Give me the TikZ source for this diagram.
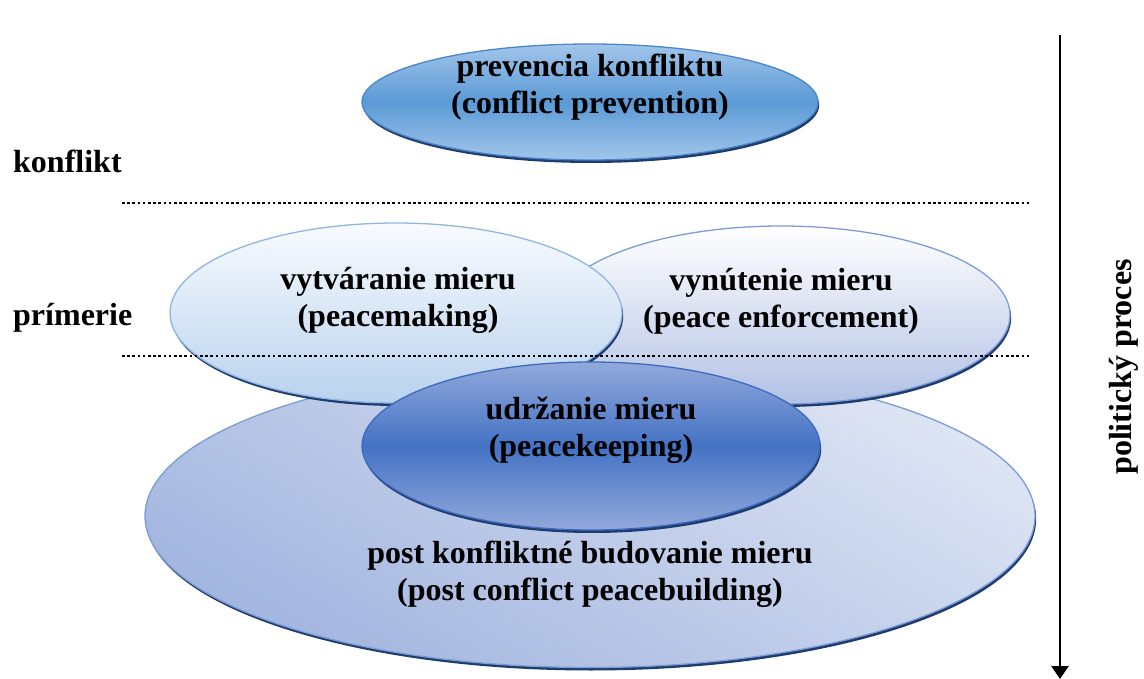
\documentclass[tikz,border=0pt]{standalone}
\usepackage{fontspec}
\setmainfont{Liberation Serif}
\usetikzlibrary{shapes.geometric,shadows,arrows.meta}

\definecolor{rimblue}{HTML}{1F3C6E}
\definecolor{prevlight}{HTML}{A2C5EA}
\definecolor{prevmid}{HTML}{5B9AD6}
\definecolor{prevline}{HTML}{4A86C8}
\definecolor{makelight}{HTML}{F8FBFE}
\definecolor{makedark}{HTML}{B9D2EE}
\definecolor{makeline}{HTML}{8FB6E2}
\definecolor{enfdark}{HTML}{B2C1E5}
\definecolor{enfline}{HTML}{7E9DD6}
\definecolor{keeplight}{HTML}{92A9DB}
\definecolor{keepmid}{HTML}{4472C4}
\definecolor{keepline}{HTML}{3D6AC0}
\definecolor{buildlight}{HTML}{DDE4F3}
\definecolor{builddark}{HTML}{A3B6E0}
\definecolor{buildline}{HTML}{7C9CD4}

\tikzset{
  oval/.style={ellipse, draw, line width=1.3pt, inner sep=0pt},
  rim/.style={drop shadow={shadow xshift=1.2pt, shadow yshift=-3pt, fill=rimblue, opacity=1}},
  lbl/.style={font=\bfseries\fontsize{32}{37}\selectfont, align=center},
  level/.style={dash pattern=on 2.6pt off 2.6pt, line width=2.6pt},
}

\begin{document}
\begin{tikzpicture}[x=1pt, y=-1pt]
    \useasboundingbox (0,0) rectangle (1144,679);

    % Ellipses, back to front
    \node[oval, rim, draw=buildline, top color=buildlight, bottom color=builddark,
          shading angle=-30, minimum width=890pt, minimum height=303pt] (build) at (590,516) {};
    \node[oval, rim, draw=enfline, top color=white, bottom color=enfdark,
          minimum width=458pt, minimum height=178pt] (enf) at (781,315) {};
    \node[oval, rim, draw=makeline, top color=makelight, bottom color=makedark,
          minimum width=452pt, minimum height=180pt] (make) at (396,313) {};
    \node[oval, rim, draw=keepline, top color=keeplight, bottom color=keeplight, middle color=keepmid,
          minimum width=458pt, minimum height=168pt] (keep) at (591,446) {};
    \node[oval, rim, draw=prevline, top color=prevlight, bottom color=prevlight, middle color=prevmid,
          minimum width=456pt, minimum height=116pt] (prev) at (590,102) {};

    % Levels
    \coordinate (konfA) at (122,203);
    \coordinate (konfB) at (1030,203);
    \coordinate (primA) at (122,356);
    \coordinate (primB) at (1030,356);
    \draw[level] (konfA) -- (konfB);
    \draw[level] (primA) -- (primB);

    \node[lbl, anchor=base west, inner sep=0pt] (konf) at (13,173) {konflikt};
    \node[lbl, anchor=base west, inner sep=0pt] (prim) at (13,325) {prímerie};

    % Labels
    \node[lbl] (prevtxt) at (590,87) {prevencia konfliktu\\(conflict prevention)};
    \node[lbl] (maketxt) at (398,300) {vytváranie mieru\\(peacemaking)};
    \node[lbl] (enftxt) at (781,301) {vynútenie mieru\\(peace enforcement)};
    \node[lbl] (keeptxt) at (591,430) {udržanie mieru\\(peacekeeping)};
    \node[lbl] (buildtxt) at (590,574) {post konfliktné budovanie mieru\\(post conflict peacebuilding)};

    % Process
    \coordinate (ptop) at (1060,35);
    \coordinate (pbot) at (1060,679);
    \draw[line width=2.5pt, -{Triangle[width=17pt,length=13pt]}] (ptop) -- (pbot);
    \node[lbl, rotate=90] (proc) at (1124,367) {politický proces};
\end{tikzpicture}
\end{document}
